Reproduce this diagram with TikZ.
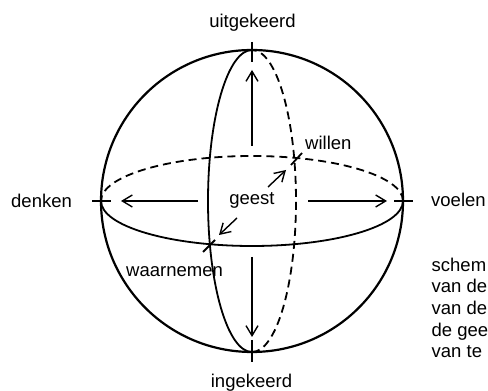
\documentclass[tikz,border=0pt]{standalone}
\usepackage{fontspec}
\setmainfont{Liberation Sans}
\usetikzlibrary{arrows.meta}
\begin{document}
\begin{tikzpicture}[x=1pt,y=1pt,
  lbl/.style={inner sep=0pt,font=\fontsize{18.5}{22}\selectfont},
  outline/.style={line width=2.2pt},
  rim/.style={line width=1.8pt},
  rimdash/.style={line width=1.8pt,dash pattern=on 8pt off 5pt},
  tick/.style={line width=1.8pt},
  arr/.style={line width=1.4pt,-{Straight Barb[length=10pt,width=12pt,line width=1.4pt]}}]
\useasboundingbox (0,0) rectangle (488,391);
\clip (0,0) rectangle (488,391);
\coordinate (C) at (252,190);
% sphere
\draw[outline] (C) circle[radius=151];
\draw[rim] ([xshift=-151pt]C) arc[start angle=180,end angle=360,x radius=151,y radius=45];
\draw[rimdash] ([xshift=151pt]C) arc[start angle=0,end angle=180,x radius=151,y radius=45];
\draw[rim] ([yshift=151pt]C) arc[start angle=90,end angle=270,x radius=44,y radius=151];
\draw[rimdash] ([yshift=-151pt]C) arc[start angle=-90,end angle=90,x radius=44,y radius=151];
% tick coordinates
\coordinate (tT1) at (252,349); \coordinate (tT2) at (252,329);
\coordinate (tB1) at (252,51); \coordinate (tB2) at (252,29);
\coordinate (tL1) at (92,190); \coordinate (tL2) at (111,190);
\coordinate (tR1) at (394,190); \coordinate (tR2) at (413,190);
\coordinate (tW1) at (302,238); \coordinate (tW2) at (291,226);
\coordinate (tN1) at (203,139); \coordinate (tN2) at (215,151);
\foreach \a in {T,B,L,R,W,N} \draw[tick] (t\a1) -- (t\a2);
% arrows
\coordinate (aU1) at (252,245); \coordinate (aU2) at (252,321);
\coordinate (aD1) at (252,134); \coordinate (aD2) at (252,54);
\coordinate (aL1) at (198,190); \coordinate (aL2) at (121,190);
\coordinate (aR1) at (308,190); \coordinate (aR2) at (387,190);
\coordinate (aNE1) at (268,204); \coordinate (aNE2) at (286,221);
\coordinate (aSW1) at (237,173); \coordinate (aSW2) at (219,156);
\foreach \a in {U,D,L,R,NE,SW} \draw[arr] (a\a1) -- (a\a2);
% labels
\node[lbl,anchor=base] (up) at (252.5,363) {uitgekeerd};
\node[lbl,anchor=base] (down) at (251.5,3) {ingekeerd};
\node[lbl,anchor=base west] (denk) at (11,183) {denken};
\node[lbl,anchor=base west] (voel) at (431,184) {voelen};
\node[lbl,anchor=base west] (wil) at (305,241) {willen};
\node[lbl,anchor=base west] (waar) at (126,114) {waarnemen};
\node[lbl,anchor=base] (geest) at (252,186) {geest};
\node[lbl,anchor=base west] (n1) at (431.5,119) {schem};
\node[lbl,anchor=base west] (n2) at (431.5,98) {van de};
\node[lbl,anchor=base west] (n3) at (431.5,76) {van de};
\node[lbl,anchor=base west] (n4) at (431.5,54) {de gee};
\node[lbl,anchor=base west] (n5) at (431.5,33) {van te};
\end{tikzpicture}
\end{document}
